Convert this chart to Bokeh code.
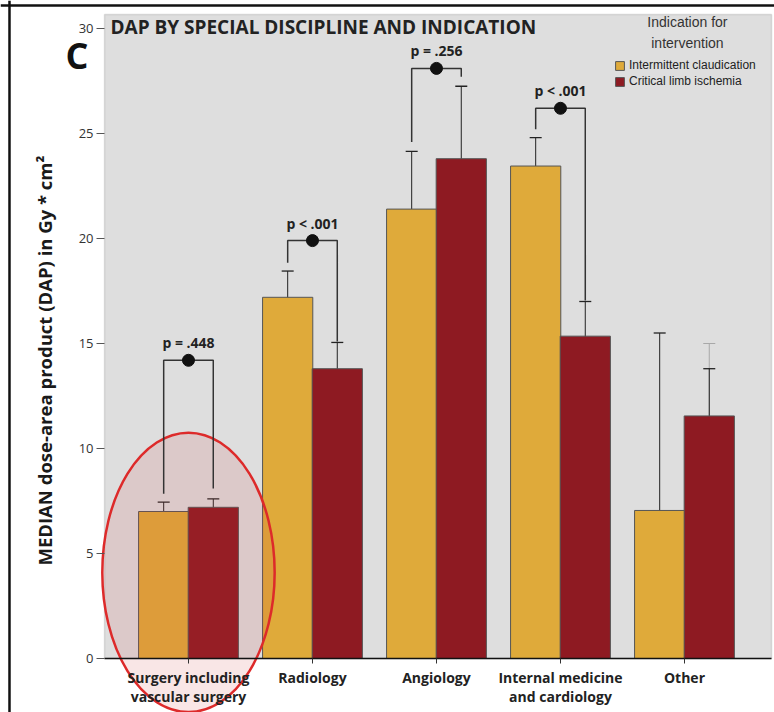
from bokeh.plotting import figure
from bokeh.models import (Range1d, FixedTicker, BoxAnnotation, Whisker, TeeHead,
                          ColumnDataSource, Label, Legend, LegendItem, Span)
from bokeh.core.properties import value
from bokeh.embed import file_html
from bokeh.resources import INLINE

# ---------------- data ----------------
categories = ["Surgery including\nvascular surgery", "Radiology", "Angiology",
              "Internal medicine\nand cardiology", "Other"]
ic_median = [7.0, 17.2, 21.4, 23.45, 7.05]
ic_lower = [6.55, 16.2, 19.25, 22.65, 1.3]
ic_upper = [7.45, 18.45, 24.15, 24.8, 15.5]
cli_median = [7.2, 13.8, 23.8, 15.35, 11.55]
cli_lower = [6.85, 12.75, 21.6, 14.3, 7.6]
cli_upper = [7.6, 15.05, 27.25, 17.0, 13.8]
# faint secondary whisker drawn on the "Other" CLI bar
other_faint_lower = [8.3]
other_faint_upper = [15.0]
p_labels = ["p = .448", "p < .001", "p = .256", "p < .001"]
bracket_y = [14.2, 19.9, 28.1, 26.2]
bracket_left_end = [7.85, 18.85, 24.6, 25.2]
bracket_right_end = [8.1, 15.1, 27.7, 17.05]
y_ticks = [0, 5, 10, 15, 20, 25, 30]
series_names = ["Intermittent claudication", "Critical limb ischemia"]

ORANGE = "#dfaa3a"
RED = "#8e1a22"
GRAY_BG = "#dedede"
OFF = 0.2
BAR_W = 0.405

# panel extents (x in category units, y in value units)
X_LO, X_HI = -0.677, 4.702
Y_TOP = 30.667

idx = list(range(len(categories)))
src_ic = ColumnDataSource(dict(x=[i - OFF for i in idx], top=ic_median,
                               lower=ic_lower, upper=ic_upper))
src_cli = ColumnDataSource(dict(x=[i + OFF for i in idx], top=cli_median,
                                lower=cli_lower, upper=cli_upper))

p = figure(width=774, height=712, output_backend="svg", toolbar_location=None,
           x_range=Range1d(-1.516, 4.726), y_range=Range1d(-2.571, 31.333),
           min_border_left=0, min_border_right=0, min_border_top=0,
           min_border_bottom=0, background_fill_color="white",
           border_fill_color="white", outline_line_color=None)
p.grid.visible = False

# outer black frame lines of the figure panel
p.add_layout(Span(location=-1.4435, dimension="height", line_color="#111111", line_width=2.5))
p.add_layout(Span(location=31.095, dimension="width", line_color="#111111", line_width=2.5))

# gray plotting panel
p.add_layout(BoxAnnotation(left=X_LO, right=X_HI, bottom=0, top=Y_TOP,
                           fill_color=GRAY_BG, fill_alpha=1.0,
                           line_color="#999999", line_width=1.5, level="underlay"))

# y axis
ya = p.yaxis[0]
ya.fixed_location = X_LO
ya.ticker = FixedTicker(ticks=y_ticks)
ya.bounds = (-2.27, Y_TOP)
ya.axis_line_color = None
ya.major_tick_line_color = "#555555"
ya.major_tick_out = 8
ya.major_tick_in = 0
ya.minor_tick_line_color = None
ya.major_label_text_font = "Open Sans"
ya.major_label_text_font_size = "13px"
ya.major_label_text_color = "#333333"
ya.major_label_standoff = 3
ya.axis_label = "MEDIAN dose-area product (DAP) in Gy * cm\u00b2"
ya.axis_label_text_font = "Open Sans"
ya.axis_label_text_font_style = "bold"
ya.axis_label_text_font_size = "18.5px"
ya.axis_label_text_color = "#1a1a1a"
ya.axis_label_standoff = 19

# x axis
xa = p.xaxis[0]
xa.fixed_location = 0
xa.ticker = FixedTicker(ticks=idx)
xa.bounds = (X_LO, X_HI)
xa.major_label_overrides = {i: c for i, c in zip(idx, categories)}
xa.axis_line_color = "#111111"
xa.axis_line_width = 1.5
xa.major_tick_line_color = "#333333"
xa.major_tick_out = 5
xa.major_tick_in = 0
xa.minor_tick_line_color = None
xa.major_label_text_font = "Open Sans"
xa.major_label_text_font_style = "bold"
xa.major_label_text_font_size = "14px"
xa.major_label_text_color = "#222222"
xa.major_label_standoff = 4
xa.major_label_text_line_height = 1.05

# bars
r_ic = p.vbar(x="x", top="top", bottom=0, width=BAR_W, source=src_ic,
              fill_color=ORANGE, line_color="#555555", line_width=1)
r_cli = p.vbar(x="x", top="top", bottom=0, width=BAR_W, source=src_cli,
               fill_color=RED, line_color="#555555", line_width=1)

# highlight ellipse around the first group
p.ellipse(x=[idx[0]], y=[4.1], width=1.39, height=13.3, fill_color="#d04040",
          fill_alpha=0.13, line_color="#dd2a2a", line_width=2.5)

# faint secondary whisker on "Other"
src_faint = ColumnDataSource(dict(x=[idx[4] + OFF], lower=other_faint_lower,
                                  upper=other_faint_upper))
p.add_layout(Whisker(source=src_faint, base="x", lower="lower", upper="upper",
                     line_color="#a8a8a8", line_width=1,
                     upper_head=TeeHead(size=12, line_color="#a8a8a8", line_width=1),
                     lower_head=TeeHead(size=12, line_color="#a8a8a8", line_width=1)))

for src in (src_ic, src_cli):
    p.add_layout(Whisker(source=src, base="x", lower="lower", upper="upper",
                         line_color="#222222", line_width=1,
                         upper_head=TeeHead(size=12, line_color="#222222", line_width=1.3),
                         lower_head=TeeHead(size=12, line_color="#222222", line_width=1.3)))

# significance brackets
xs, ys = [], []
for i, by, le, re in zip(idx, bracket_y, bracket_left_end, bracket_right_end):
    xs.append([i - OFF, i - OFF, i + OFF, i + OFF])
    ys.append([le, by, by, re])
p.multi_line(xs=xs, ys=ys, line_color="#333333", line_width=1.5)
p.scatter(x=idx[:4], y=bracket_y, size=12, color="#111111")
p.text(x=idx[:4], y=bracket_y, text=p_labels, text_align="center",
       text_baseline="bottom", y_offset=-8, text_font=value("Open Sans"),
       text_font_style="bold", text_font_size="14px", text_color="#222222")

# title and panel letter
p.add_layout(Label(x=-0.629, y=30.05, text="DAP BY SPECIAL DISCIPLINE AND INDICATION",
                   text_font="Open Sans", text_font_style="bold", text_font_size="19px",
                   text_color="#222222", text_baseline="middle"))
p.add_layout(Label(x=-0.992, y=28.7, text="C", text_font="Open Sans",
                   text_font_style="bold", text_font_size="36px",
                   text_color="#111111", text_baseline="middle"))

# legend
p.add_layout(Label(x=4.024, y=30.29, text="Indication for", text_font="Liberation Sans",
                   text_font_size="14px", text_color="#333333", text_align="center",
                   text_baseline="middle"))
p.add_layout(Label(x=4.024, y=29.33, text="intervention", text_font="Liberation Sans",
                   text_font_size="14px", text_color="#333333", text_align="center",
                   text_baseline="middle"))
legend = Legend(items=[LegendItem(label=series_names[0], renderers=[r_ic]),
                       LegendItem(label=series_names[1], renderers=[r_cli])],
                location=(614, 624))
legend.background_fill_alpha = 0
legend.border_line_color = None
legend.padding = 0
legend.margin = 0
legend.spacing = 2
legend.glyph_width = 11
legend.glyph_height = 11
legend.label_height = 11
legend.label_standoff = 4
legend.label_text_font = "Liberation Sans"
legend.label_text_font_size = "12px"
legend.label_text_color = "#222222"
p.add_layout(legend)

open("out.html", "w").write(file_html(p, INLINE))
